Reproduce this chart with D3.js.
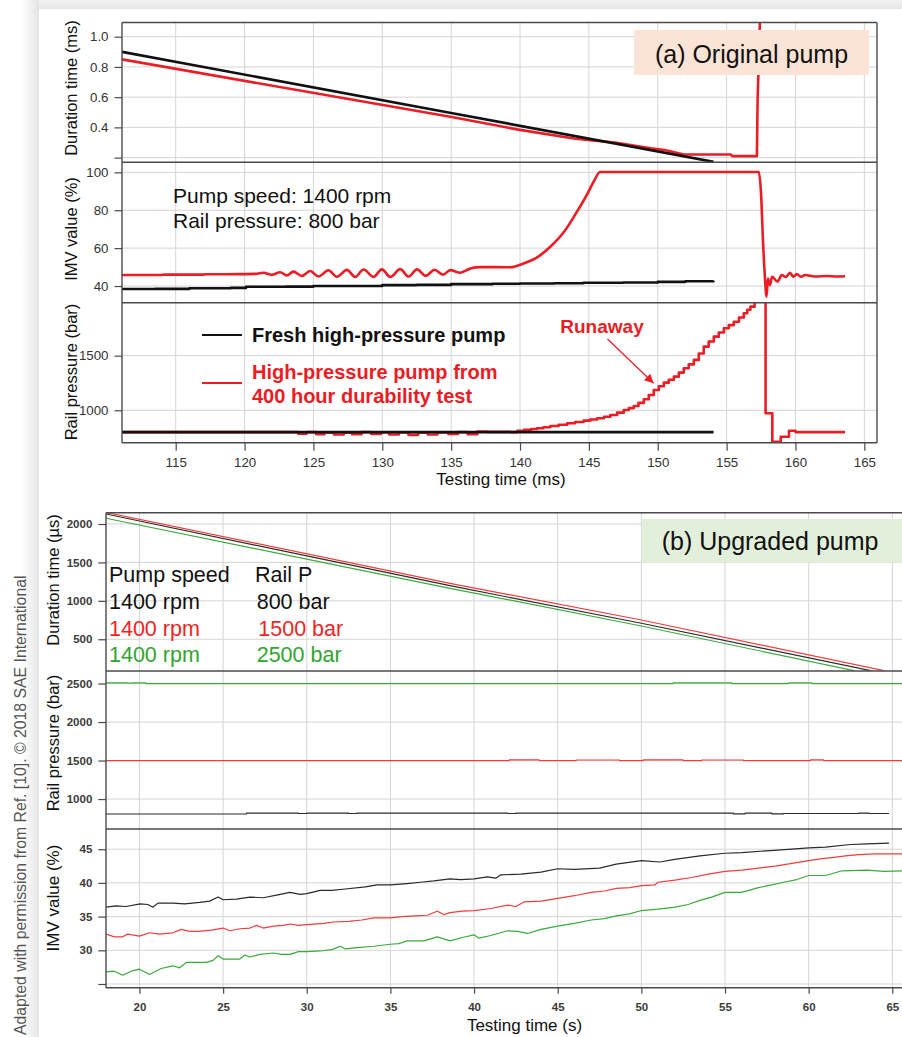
<!DOCTYPE html>
<html>
<head>
<meta charset="utf-8">
<script src="https://cdn.jsdelivr.net/npm/d3@7"></script>
<style>
  body { margin: 0; background: #fff; }
  svg text { font-family: "Liberation Sans", Arial, sans-serif; }
</style>
</head>
<body>
<div id="viz_area"></div>
<script>
// ---------------- (a) original pump, time in ms ----------------
var ticksA_x = [115, 120, 125, 130, 135, 140, 145, 150, 155, 160, 165];
var ticksA_dur = [0.2, 0.4, 0.6, 0.8, 1.0];
var labelsA_dur = [0.4, 0.6, 0.8, 1.0];
var ticksA_imv = [40, 60, 80, 100];
var ticksA_rail = [1000, 1500];

var freshDurA = [[111.1, 0.90], [134.9, 0.497], [154.05, 0.172]];
var agedDurA = [[111.1, 0.85], [134.94, 0.47], [139.78, 0.387], [143.9, 0.327], [145.1, 0.316], [147.0, 0.298],
  [149.5, 0.261], [150.5, 0.25], [151.9, 0.221], [155.3, 0.221], [155.4, 0.21], [157.2, 0.21],
  [157.25, 0.58], [157.45, 1.2]];

var freshImvA = [[111.1, 38.4], [113.5, 38.5], [116, 38.8], [119, 39.0], [120.1, 39.6], [123, 39.7], [125, 40.0],
  [127.7, 40.0], [130, 40.5], [132.5, 40.6], [135, 41.0], [138, 41.2], [140, 41.3], [142.5, 41.5], [144.6, 41.7],
  [147.5, 41.9], [150, 42.2], [152, 42.5], [154.05, 42.8]];
var agedImvA = [[111.1, 45.8], [114, 45.8], [114.1, 46.0], [117, 46.0], [117.1, 46.2], [120.1, 46.3], [120.8, 46.4],
  [121.37, 47.0], [121.98, 45.9], [122.58, 47.3], [123.07, 45.6], [123.55, 47.6], [124.16, 45.3], [124.76, 47.9],
  [125.37, 45.0], [126.09, 48.3], [126.70, 44.9], [127.43, 48.5], [128.03, 44.8], [128.64, 48.7], [129.36, 44.8],
  [129.97, 48.8], [130.58, 44.8], [131.3, 48.9], [131.91, 45.0], [132.52, 48.8], [133.15, 45.4], [133.8, 48.6],
  [134.4, 46.0], [134.94, 48.4], [135.66, 47.0], [136.4, 49.3], [137.1, 50.0], [139.3, 49.9], [140.3, 52.0],
  [141.3, 55.4], [142.2, 60.7], [143.2, 68.6], [144.2, 80.0], [144.9, 88.8], [145.4, 95.8], [145.8, 100.2],
  [157.34, 100.2], [157.5, 88.9], [157.65, 62.5], [157.78, 44.9], [157.9, 34.4], [158.0, 44.0], [158.15, 40.5],
  [158.3, 44.9], [158.7, 42.3], [159.0, 45.8], [159.3, 44.8], [159.6, 47.0], [159.85, 44.9], [160.1, 46.3],
  [160.4, 44.9], [160.7, 45.8], [161.4, 45.0], [162.3, 45.3], [163.0, 45.0], [163.6, 45.2]];

var freshRailA = [[111.1, 800], [154.05, 800]];
var agedRailA = [[111.1, 800], [123.9, 785], [124.5, 800], [125.2, 780], [125.8, 795], [126.5, 778], [127.2, 795],
  [127.8, 780], [128.5, 800], [129.2, 782], [129.9, 798], [130.5, 778], [131.2, 798], [131.9, 775], [132.6, 795],
  [133.3, 778], [134.0, 798], [134.8, 782], [135.5, 800], [136.2, 780], [136.9, 805], [137.6, 802], [139.3, 800],
  [139.8, 813], [140.3, 820], [140.8, 828], [141.24, 835], [141.7, 845], [142.2, 856], [142.8, 868], [143.42, 881],
  [144.0, 893], [144.62, 905], [145.1, 915], [145.6, 927], [146.1, 940], [146.56, 957], [147.05, 978],
  [147.53, 1003], [147.9, 1020], [148.26, 1039], [148.6, 1068], [148.99, 1101], [149.35, 1140], [149.71, 1186],
  [150.08, 1220], [150.44, 1253], [150.8, 1280], [151.17, 1308], [151.53, 1345], [151.89, 1385], [152.25, 1420],
  [152.62, 1461], [152.98, 1520], [153.34, 1583], [153.7, 1630], [154.07, 1674], [154.43, 1712], [154.8, 1751],
  [155.16, 1780], [155.52, 1811], [155.9, 1850], [156.25, 1888], [156.5, 1920], [156.73, 1949],
  [157.03, 2050], [157.83, 972], [158.32, 712], [158.93, 758], [159.53, 813], [160.01, 800], [163.6, 800]];

// ---------------- (b) upgraded pump, time in s ----------------
var ticksB_x = [20, 25, 30, 35, 40, 45, 50, 55, 60, 65];
var ticksB_dur = [500, 1000, 1500, 2000];
var ticksB_rail = [1000, 1500, 2000, 2500];
var ticksB_imv = [25, 30, 35, 40, 45];
var labelsB_imv = [30, 35, 40, 45];

var dur800B = [[18, 2130], [38.56, 1197], [50, 708], [63.7, 92]];
var dur1500B = [[18, 2150], [38.56, 1228], [50, 751], [64.5, 92]];
var dur2500B = [[18, 2075], [38.56, 1163], [50, 673], [62.7, 92]];

var rail800B = [[18, 806], [26.4, 818], [29.5, 812], [30, 818], [32.5, 812], [33, 818], [42, 812], [42.5, 818],
  [55.5, 808], [56.2, 818], [57.8, 808], [58.5, 812], [63, 818], [63.6, 812], [64.8, 812]];
var rail1500B = [[18, 1500], [42.1, 1508], [43.9, 1500], [46.1, 1507], [48.7, 1500], [50.1, 1508], [52.5, 1500],
  [53.6, 1507], [56.1, 1500], [60.1, 1508], [60.9, 1500], [65.6, 1500]];
var rail2500B = [[18, 2510], [19.3, 2505], [19.6, 2510], [20.4, 2500], [51.8, 2500], [51.9, 2510], [55.3, 2510],
  [55.4, 2500], [58.7, 2500], [58.8, 2508], [60.1, 2508], [60.2, 2500], [65.6, 2500]];

var imv800B = [[18, 36.4], [18.6, 36.6], [19.2, 36.5], [20.05, 36.9], [20.5, 36.8], [20.8, 36.4], [21.1, 37.0],
  [22, 37.0], [22.7, 36.9], [23.6, 37.1], [24.2, 37.3], [24.7, 37.9], [25, 37.5], [25.8, 37.6], [26.6, 37.9],
  [27.4, 37.8], [28.2, 38.2], [29, 38.6], [29.6, 38.3], [30, 38.4], [30.8, 38.9], [31.5, 38.9], [32.3, 39.1],
  [33.5, 39.4], [34.2, 39.7], [35, 39.7], [36, 39.9], [36.8, 40.1], [37.6, 40.3], [38.56, 40.6], [39.2, 40.5],
  [40, 40.6], [40.8, 40.9], [41.3, 40.7], [41.6, 41.2], [42.8, 41.3], [44, 41.6], [45, 42.1], [46, 42.0],
  [47.5, 42.2], [48.5, 42.8], [50, 43.3], [51.1, 43.1], [52, 43.5], [53.5, 44.0], [55, 44.4], [56, 44.5],
  [57.7, 44.8], [59, 45.0], [60, 45.2], [61, 45.3], [62.5, 45.7], [63.5, 45.8], [64.8, 45.9]];
var imv1500B = [[18, 32.4], [18.5, 32.0], [19, 32.0], [19.3, 32.4], [20, 32.1], [20.6, 32.6], [21.2, 32.4],
  [22, 32.6], [22.5, 33.1], [23, 32.8], [23.5, 32.8], [24.3, 33.0], [25, 33.3], [25.4, 32.9], [26, 33.2],
  [26.6, 33.3], [27, 33.7], [27.4, 33.3], [28, 33.6], [28.6, 33.7], [29, 33.9], [29.5, 33.7], [30, 33.8],
  [31, 34.0], [31.6, 34.2], [32.5, 34.3], [33.3, 34.5], [34, 34.8], [35, 34.8], [35.7, 35.0], [36.5, 35.1],
  [37.2, 35.2], [37.8, 35.8], [38.2, 35.3], [38.56, 35.6], [39.3, 35.8], [40, 35.9], [41, 36.2], [42, 36.7],
  [42.5, 36.5], [43, 37.2], [44, 37.3], [45, 37.7], [46, 38.1], [47, 38.6], [47.8, 38.8], [48.5, 39.2],
  [49.3, 39.3], [50, 39.6], [50.8, 39.7], [51, 40.1], [52, 40.4], [53, 40.8], [54, 41.3], [55, 41.7], [56, 41.9],
  [57, 42.2], [58, 42.5], [59, 42.9], [60, 43.3], [60.8, 43.6], [61.5, 43.8], [62.2, 44.0], [63, 44.2],
  [64, 44.3], [65.6, 44.3]];
var imv2500B = [[18, 26.8], [18.5, 26.9], [19, 26.3], [19.5, 26.9], [20, 27.2], [20.6, 26.4], [21.3, 27.3],
  [22, 27.7], [22.4, 27.4], [22.8, 28.2], [24, 28.2], [24.4, 28.5], [24.7, 29.2], [25, 28.7], [26, 28.7],
  [26.3, 29.3], [26.6, 29.0], [27.2, 29.4], [28, 29.6], [28.5, 29.4], [29, 29.4], [29.5, 29.8], [30, 29.8],
  [30.8, 29.9], [31.5, 30.1], [32, 30.6], [32.3, 30.2], [33, 30.4], [34, 30.6], [35, 30.9], [35.5, 31.0],
  [36, 31.4], [37, 31.4], [37.8, 32.0], [38.56, 31.4], [39.3, 31.9], [40, 32.3], [40.3, 31.8], [41, 32.2],
  [42, 32.9], [42.6, 32.8], [43.2, 32.5], [44, 33.1], [45, 33.6], [46, 34.0], [47, 34.5], [47.8, 34.7],
  [48.5, 35.1], [49.3, 35.4], [50, 35.9], [51, 36.1], [52, 36.4], [52.8, 36.8], [53.5, 37.4], [54.2, 37.9],
  [55, 38.6], [56, 38.6], [57, 39.3], [57.8, 39.7], [58.5, 40.1], [59.3, 40.5], [60, 41.1], [61, 41.1],
  [62, 41.8], [63.5, 41.9], [64.5, 41.7], [65.6, 41.8]];

var RED_A = "#ec1c24", BLACK_A = "#111", RED_B = "#f23b3b", GREEN_B = "#3aaa3a", BLACK_B = "#2a2a2a";

function __init__() {
    var w = 902, h = 1037;
    var svg = d3.select("#viz_area").append("svg").attr("width", w).attr("height", h);
    var defs = svg.append("defs");

    // page shadow round the white sheet
    var gl = defs.append("linearGradient").attr("id", "shadeL").attr("x1", 0).attr("x2", 1).attr("y1", 0).attr("y2", 0);
    gl.append("stop").attr("offset", 0).attr("stop-color", "#fff");
    gl.append("stop").attr("offset", 1).attr("stop-color", "#e4e4e4");
    var gt = defs.append("linearGradient").attr("id", "shadeT").attr("x1", 0).attr("x2", 0).attr("y1", 0).attr("y2", 1);
    gt.append("stop").attr("offset", 0).attr("stop-color", "#f3f3f3");
    gt.append("stop").attr("offset", 1).attr("stop-color", "#e6e6e6");
    svg.append("rect").attr("x", 22).attr("y", 0).attr("width", 17).attr("height", h).attr("fill", "url(#shadeL)");
    svg.append("rect").attr("x", 39).attr("y", 0).attr("width", w - 39).attr("height", 9).attr("fill", "url(#shadeT)");

    // ---------- (a) ----------
    var xA = d3.scaleLinear().domain([111.1, 165.92]).range([122, 877]);
    var fA = {left: 122, right: 877, tickLen: 7.5, font: 13.3, bold: false, fill: "#333", gridX: ticksA_x, x: xA};

    var yA1 = panel(svg, "a1", fA, {top: 22.5, bottom: 162.3, domain: [0.169, 1.094], ticks: ticksA_dur,
        labels: labelsA_dur, fmt: d3.format(".1f")});
    var yA2 = panel(svg, "a2", fA, {top: 162.3, bottom: 302.7, domain: [31.2, 105.3], ticks: ticksA_imv,
        labels: ticksA_imv, fmt: d3.format("d")});
    var yA3 = panel(svg, "a3", fA, {top: 302.7, bottom: 442.7, domain: [703, 1985], ticks: ticksA_rail,
        labels: ticksA_rail, fmt: d3.format("d")});

    series(svg, "a1", xA, yA1, agedDurA, RED_A, 2.6, d3.curveLinear);
    series(svg, "a1", xA, yA1, freshDurA, BLACK_A, 2.6, d3.curveLinear);
    series(svg, "a2", xA, yA2, agedImvA, RED_A, 2.6, d3.curveMonotoneX);
    series(svg, "a2", xA, yA2, freshImvA, BLACK_A, 2.6, d3.curveStepAfter);
    series(svg, "a3", xA, yA3, agedRailA, RED_A, 2.6, d3.curveStepAfter);
    series(svg, "a3", xA, yA3, freshRailA, BLACK_A, 2.6, d3.curveLinear);

    frame(svg, [[122, 22.5, 877, 22.5], [877, 22.5, 877, 442.7], [122, 22.5, 122, 442.7], [122, 162.3, 877, 162.3],
        [122, 302.7, 877, 302.7], [122, 442.7, 877, 442.7]]);

    var axA = svg.append("g").attr("transform", "translate(0,442.7)")
        .call(d3.axisBottom(xA).tickValues(ticksA_x).tickSize(8).tickPadding(7));
    styleAxis(axA, 13.3, false, "#333");

    yTitle(svg, "Duration time (ms)", 77, 88, 16.5);
    yTitle(svg, "IMV value (%)", 77, 229, 16.5);
    yTitle(svg, "Rail pressure (bar)", 77, 372, 16.5);
    svg.append("text").attr("x", 501).attr("y", 485).attr("text-anchor", "middle")
        .attr("font-size", 17).attr("fill", "#111").text("Testing time (ms)");

    svg.append("rect").attr("x", 634).attr("y", 30).attr("width", 235).attr("height", 45).attr("fill", "#fbe4d5");
    svg.append("text").attr("x", 751.5).attr("y", 62.5).attr("text-anchor", "middle").attr("font-size", 25)
        .attr("fill", "#111").text("(a) Original pump");

    svg.append("text").attr("x", 173).attr("y", 203.3).attr("font-size", 21).attr("fill", "#111").text("Pump speed: 1400 rpm");
    svg.append("text").attr("x", 173).attr("y", 228.3).attr("font-size", 21).attr("fill", "#111").text("Rail pressure: 800 bar");

    // legend
    svg.append("line").attr("x1", 202).attr("x2", 242).attr("y1", 335).attr("y2", 335).attr("stroke", BLACK_A).attr("stroke-width", 2);
    svg.append("text").attr("x", 252).attr("y", 341.5).attr("font-size", 20).attr("font-weight", "bold")
        .attr("fill", "#111").text("Fresh high-pressure pump");
    svg.append("line").attr("x1", 202).attr("x2", 242).attr("y1", 383).attr("y2", 383).attr("stroke", RED_A).attr("stroke-width", 2);
    svg.append("text").attr("x", 252).attr("y", 379).attr("font-size", 20).attr("font-weight", "bold")
        .attr("fill", RED_A).text("High-pressure pump from");
    svg.append("text").attr("x", 252).attr("y", 403).attr("font-size", 20).attr("font-weight", "bold")
        .attr("fill", RED_A).text("400 hour durability test");

    // runaway arrow
    defs.append("marker").attr("id", "arrowR").attr("viewBox", "0 0 10 10").attr("refX", 10).attr("refY", 5)
        .attr("markerWidth", 11).attr("markerHeight", 9).attr("markerUnits", "userSpaceOnUse").attr("orient", "auto")
        .append("path").attr("d", "M0,0 L10,5 L0,10 Z").attr("fill", RED_A);
    svg.append("line").attr("x1", xA(146.35)).attr("y1", yA3(1653)).attr("x2", xA(149.7)).attr("y2", yA3(1247))
        .attr("stroke", RED_A).attr("stroke-width", 1.2).attr("marker-end", "url(#arrowR)");
    svg.append("text").attr("x", 602).attr("y", 333).attr("text-anchor", "middle").attr("font-size", 19)
        .attr("font-weight", "bold").attr("fill", RED_A).text("Runaway");

    // ---------- (b) ----------
    var xB = d3.scaleLinear().domain([18, 65.58]).range([106, 902]);
    var fB = {left: 106, right: 902, tickLen: 7.7, font: 11.5, bold: true, fill: "#3b3b3b", gridX: ticksB_x, x: xB};

    var yB1 = panel(svg, "b1", fB, {top: 512.7, bottom: 671, domain: [87, 2147], ticks: ticksB_dur,
        labels: ticksB_dur, fmt: d3.format("d")});
    var yB2 = panel(svg, "b2", fB, {top: 671, bottom: 829, domain: [611, 2663], ticks: ticksB_rail,
        labels: ticksB_rail, fmt: d3.format("d")});
    var yB3 = panel(svg, "b3", fB, {top: 829, bottom: 987.7, domain: [24.45, 48], ticks: ticksB_imv,
        labels: labelsB_imv, fmt: d3.format("d")});

    series(svg, "b1", xB, yB1, dur2500B, GREEN_B, 1.2, d3.curveLinear);
    series(svg, "b1", xB, yB1, dur800B, BLACK_B, 1.2, d3.curveLinear);
    series(svg, "b1", xB, yB1, dur1500B, RED_B, 1.2, d3.curveLinear);
    series(svg, "b2", xB, yB2, rail2500B, GREEN_B, 1.2, d3.curveStepAfter);
    series(svg, "b2", xB, yB2, rail1500B, RED_B, 1.2, d3.curveStepAfter);
    series(svg, "b2", xB, yB2, rail800B, BLACK_B, 1.2, d3.curveStepAfter);
    series(svg, "b3", xB, yB3, imv800B, BLACK_B, 1.2, d3.curveLinear);
    series(svg, "b3", xB, yB3, imv1500B, RED_B, 1.2, d3.curveLinear);
    series(svg, "b3", xB, yB3, imv2500B, GREEN_B, 1.2, d3.curveLinear);

    frame(svg, [[106, 512.7, 902, 512.7], [106, 512.7, 106, 987.7], [106, 671, 902, 671], [106, 829, 902, 829],
        [106, 987.7, 902, 987.7]]);

    var axB = svg.append("g").attr("transform", "translate(0,987.7)")
        .call(d3.axisBottom(xB).tickValues(ticksB_x).tickSize(6).tickPadding(9.5));
    styleAxis(axB, 11.5, true, "#3b3b3b");

    yTitle(svg, "Duration time (µs)", 59, 580, 16.5);
    yTitle(svg, "Rail pressure (bar)", 59, 743, 16.5);
    yTitle(svg, "IMV value (%)", 59, 898, 17);
    svg.append("text").attr("x", 524.5).attr("y", 1031).attr("text-anchor", "middle")
        .attr("font-size", 17).attr("fill", "#111").text("Testing time (s)");

    svg.append("rect").attr("x", 641.7).attr("y", 519).attr("width", 270).attr("height", 43.7).attr("fill", "#e2efda");
    svg.append("text").attr("x", 661.7).attr("y", 550).attr("font-size", 25).attr("fill", "#111").text("(b) Upgraded pump");

    // table legend
    var rowsB = [["Pump speed", "Rail P", "#111", 109, 255], ["1400 rpm", "800 bar", "#111", 109, 256.7],
        ["1400 rpm", "1500 bar", "#ee2424", 109, 258.3], ["1400 rpm", "2500 bar", "#2fa52f", 109, 256.7]];
    var baseB = [581.7, 609.3, 635.7, 662.3];
    rowsB.forEach(function(r, i) {
        svg.append("text").attr("x", r[3]).attr("y", baseB[i]).attr("font-size", 21.5).attr("fill", r[2]).text(r[0]);
        svg.append("text").attr("x", r[4]).attr("y", baseB[i]).attr("font-size", 21.5).attr("fill", r[2]).text(r[1]);
    });

    // credit line
    svg.append("text").attr("transform", "translate(26,1035) rotate(-90)").attr("font-size", 15.8)
        .attr("fill", "#555").text("Adapted with permission from Ref. [10]. \u00a9 2018 SAE International");
}

function panel(svg, id, f, p) {
    var y = d3.scaleLinear().domain(p.domain).range([p.bottom, p.top]);
    svg.append("clipPath").attr("id", "clip_" + id).append("rect")
        .attr("x", f.left).attr("y", p.top).attr("width", f.right - f.left).attr("height", p.bottom - p.top);

    var grid = svg.append("g").attr("stroke", "#d5d5d5").attr("stroke-width", 1);
    grid.selectAll(".gy").data(p.ticks).join("line").attr("class", "gy")
        .attr("x1", f.left).attr("x2", f.right).attr("y1", d => y(d)).attr("y2", d => y(d));
    grid.selectAll(".gx").data(f.gridX).join("line").attr("class", "gx")
        .attr("x1", d => f.x(d)).attr("x2", d => f.x(d)).attr("y1", p.top).attr("y2", p.bottom);

    var ax = d3.axisLeft(y).tickValues(p.ticks).tickSize(f.tickLen).tickPadding(6)
        .tickFormat(d => p.labels.indexOf(d) >= 0 ? p.fmt(d) : "");
    var g = svg.append("g").attr("class", "yaxis").attr("transform", "translate(" + f.left + ",0)").call(ax);
    styleAxis(g, f.font, f.bold, f.fill);
    return y;
}

function styleAxis(g, size, bold, fill) {
    g.select(".domain").remove();
    g.selectAll("line").attr("stroke", "#4a4a4a").attr("stroke-width", 1.2);
    g.selectAll("text").attr("font-size", size).attr("font-weight", bold ? "bold" : "normal")
        .attr("fill", fill).attr("font-family", "Liberation Sans, Arial, sans-serif");
}

function series(svg, id, x, y, data, color, width, curve) {
    var line = d3.line().x(d => x(d[0])).y(d => y(d[1])).curve(curve);
    svg.append("path").datum(data).attr("clip-path", "url(#clip_" + id + ")")
        .attr("d", line).attr("fill", "none").attr("stroke", color).attr("stroke-width", width)
        .attr("stroke-linejoin", "round");
}

function frame(svg, segs) {
    svg.append("g").selectAll("line").data(segs).join("line")
        .attr("x1", d => d[0]).attr("y1", d => d[1]).attr("x2", d => d[2]).attr("y2", d => d[3])
        .attr("stroke", "#4a4a4a").attr("stroke-width", 1.4);
}

function yTitle(svg, txt, x, y, size) {
    svg.append("text").attr("transform", "translate(" + x + "," + y + ") rotate(-90)")
        .attr("text-anchor", "middle").attr("font-size", size).attr("fill", "#111").text(txt);
}

window.onload = __init__;
</script>
</body>
</html>
